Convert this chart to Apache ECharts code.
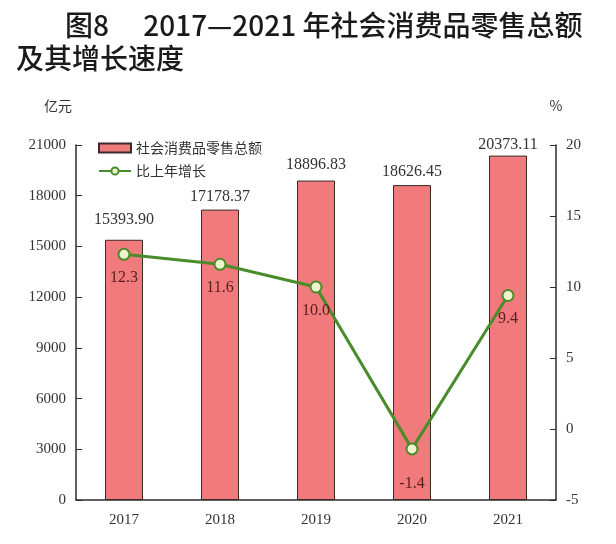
<!DOCTYPE html>
<html>
<head>
<meta charset="utf-8">
<script src="https://cdn.jsdelivr.net/npm/echarts@6/dist/echarts.min.js"></script>
<style>
  html, body { margin: 0; padding: 0; background: #fff; }
  #chart { width: 616px; height: 544px; }
</style>
</head>
<body>
<div id="chart"></div>
<script>
const years = ['2017', '2018', '2019', '2020', '2021']
const salesTotal = [15393.90, 17178.37, 18896.83, 18626.45, 20373.11]
const growthRate = [12.3, 11.6, 10.0, -1.4, 9.4]
const leftTicks = [0, 3000, 6000, 9000, 12000, 15000, 18000, 21000]
const rightTicks = [-5, 0, 5, 10, 15, 20]

const serif = '"Liberation Serif", "Times New Roman", serif'
const cjk = '"Noto Sans CJK SC", sans-serif'
const axisColor = '#2b2b2b'

// label gaps above the bars are uneven in the original
const barLabelGap = [12, 5, 8, 5, 3]

const chart = echarts.init(document.getElementById('chart'))

const barData = salesTotal.map((v, i) => ({ value: v, label: { distance: barLabelGap[i] } }))

const growthData = growthRate.map((v, i) => {
  // the 2020 label sits lower, under the dip
  return i === 3 ? { value: v, label: { distance: 20 } } : v
})

const option = {
  animation: false,
  title: [{
    text: '图8\u3000 2017—2021 年社会消费品零售总额',
    left: 60,
    top: 6,
    textStyle: { fontFamily: cjk, fontSize: 28, fontWeight: 500, color: '#1a1a1a' }
  }, {
    text: '及其增长速度',
    left: 11,
    top: 39,
    textStyle: { fontFamily: cjk, fontSize: 28, fontWeight: 500, color: '#1a1a1a' }
  }],
  legend: {
    orient: 'vertical',
    left: 93,
    top: 136,
    itemWidth: 32,
    itemHeight: 9,
    itemGap: 9,
    textStyle: { fontFamily: cjk, fontSize: 14, color: '#333' },
    data: [
      { name: '社会消费品零售总额', icon: 'rect' },
      { name: '比上年增长' }
    ]
  },
  grid: {
    left: 76,
    right: 60,
    top: 145,
    bottom: 44
  },
  xAxis: {
    type: 'category',
    data: years,
    axisLine: { lineStyle: { color: axisColor, width: 1.5 } },
    axisTick: { inside: true, length: 6, lineStyle: { color: axisColor } },
    axisLabel: { fontFamily: serif, fontSize: 15, color: '#333', margin: 13 }
  },
  yAxis: [{
    type: 'value',
    name: '亿元',
    nameLocation: 'end',
    nameGap: 32,
    nameTextStyle: { fontFamily: cjk, fontSize: 14, color: '#333', align: 'right', padding: [0, 4, 0, 0] },
    min: leftTicks[0],
    max: leftTicks[leftTicks.length - 1],
    interval: 3000,
    splitLine: { show: false },
    axisLine: { show: true, lineStyle: { color: axisColor, width: 1.5 } },
    axisTick: { show: true, inside: true, length: 6, lineStyle: { color: axisColor } },
    axisLabel: { fontFamily: serif, fontSize: 15, color: '#333', margin: 10, formatter: v => String(v) }
  }, {
    type: 'value',
    name: '%',
    nameLocation: 'end',
    nameGap: 32,
    nameTextStyle: { fontFamily: cjk, fontSize: 14, color: '#333', align: 'center' },
    position: 'right',
    min: rightTicks[0],
    max: rightTicks[rightTicks.length - 1],
    interval: 5,
    splitLine: { show: false },
    axisLine: { show: true, lineStyle: { color: axisColor, width: 1.5 } },
    axisTick: { show: true, inside: true, length: 6, lineStyle: { color: axisColor } },
    axisLabel: { fontFamily: serif, fontSize: 15, color: '#333', margin: 10, formatter: v => String(v) }
  }],
  series: [{
    name: '社会消费品零售总额',
    type: 'bar',
    yAxisIndex: 0,
    barWidth: 38,
    data: barData,
    itemStyle: { color: '#f07a7c', borderColor: '#3a2a2a', borderWidth: 1 },
    label: {
      show: true,
      position: 'top',
      fontFamily: serif,
      fontSize: 16,
      color: '#333',
      formatter: p => p.value.toFixed(2)
    }
  }, {
    name: '比上年增长',
    type: 'line',
    yAxisIndex: 1,
    data: growthData,
    symbol: 'circle',
    symbolSize: 11,
    lineStyle: { color: '#4a8c2a', width: 3 },
    itemStyle: { color: '#eef4cc', borderColor: '#4a8c2a', borderWidth: 2 },
    label: {
      show: true,
      position: 'bottom',
      distance: 9,
      fontFamily: serif,
      fontSize: 16,
      color: '#5a1e1e',
      formatter: p => p.value.toFixed(1)
    },
    z: 3
  }]
}

chart.setOption(option)
</script>
</body>
</html>
